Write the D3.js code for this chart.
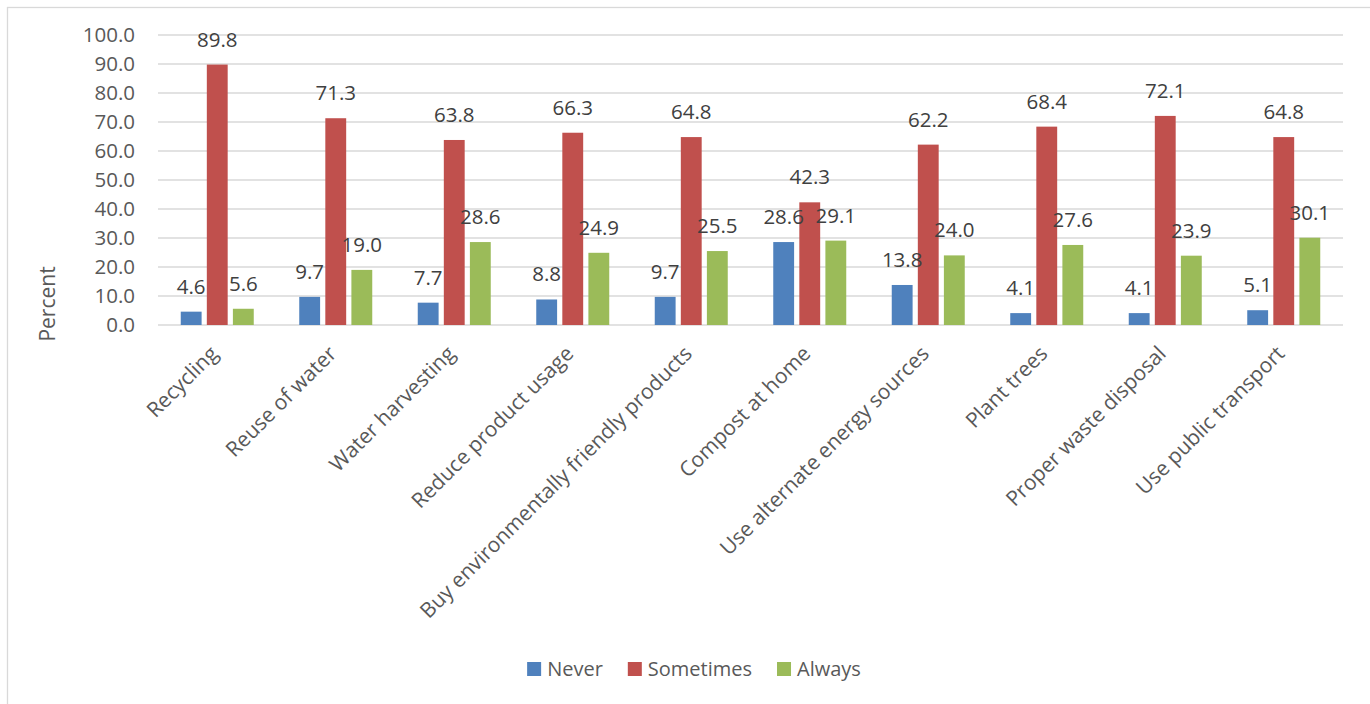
<!DOCTYPE html>
<html>
<head>
<meta charset="utf-8">
<title></title>
<style type="text/css">
    body{
        padding:0;
        margin:0;
        overflow: hidden;
        background:#fff;
    }
    text{ font-family: "Open Sans", "Noto Sans", sans-serif; }
</style>
</head>
<body>
<div id='svg-chart'></div>

<script type="text/javascript" src="https://cdn.jsdelivr.net/npm/d3@7/dist/d3.min.js"></script>
<script type="text/javascript">

    // data
    var categories = ["Recycling", "Reuse of water", "Water harvesting", "Reduce product usage",
        "Buy environmentally friendly products", "Compost at home", "Use alternate energy sources",
        "Plant trees", "Proper waste disposal", "Use public transport"];
    var seriesNames = ["Never", "Sometimes", "Always"];
    var never     = [4.6, 9.7, 7.7, 8.8, 9.7, 28.6, 13.8, 4.1, 4.1, 5.1];
    var sometimes = [89.8, 71.3, 63.8, 66.3, 64.8, 42.3, 62.2, 68.4, 72.1, 64.8];
    var always    = [5.6, 19.0, 28.6, 24.9, 25.5, 29.1, 24.0, 27.6, 23.9, 30.1];
    var yTicks = [0, 10, 20, 30, 40, 50, 60, 70, 80, 90, 100];
    var colors = ["#4F81BD", "#C0504D", "#9BBB59"];

    var seriesValues = [never, sometimes, always];

    var width = 1370, height = 704;
    var plotLeft = 158, plotRight = 1343, plotTop = 35, plotBottom = 325;

/*-----------------------------------------------------------------------
    scales
-----------------------------------------------------------------------*/
    var yScale = d3.scaleLinear().domain([0, 100]).range([plotBottom, plotTop]);
    var xScale = d3.scaleBand().domain(categories).range([plotLeft, plotRight]).padding(0);
    var xInner = d3.scaleBand().domain(seriesNames).range([-36.5, 36.5]).paddingInner(0.2).paddingOuter(0);
    var color = d3.scaleOrdinal().domain(seriesNames).range(colors);

    var svg = d3.select('#svg-chart')
        .append('svg')
        .attr('width', width)
        .attr('height', height);

    // chart frame (only left + top edges visible in the shot)
    svg.append('rect')
        .attr('x', 7.5).attr('y', 7.5)
        .attr('width', 1420).attr('height', 760)
        .style('fill', 'none')
        .style('stroke', '#D9D9D9')
        .style('stroke-width', 1.3);

    // gridlines
    svg.append('g')
        .selectAll('line')
        .data(yTicks)
        .enter()
        .append('line')
        .attr('x1', plotLeft).attr('x2', plotRight)
        .attr('y1', d => yScale(d)).attr('y2', d => yScale(d))
        .style('stroke', '#D9D9D9')
        .style('stroke-width', 1.5);

    // y tick labels
    svg.append('g')
        .selectAll('text')
        .data(yTicks)
        .enter()
        .append('text')
        .attr('x', 135)
        .attr('y', d => yScale(d))
        .attr('dy', '0.36em')
        .attr('text-anchor', 'end')
        .style('font-size', '20.5px')
        .style('fill', '#595959')
        .text(d => d.toFixed(1));

    // y axis title
    svg.append('text')
        .attr('transform', 'translate(55,304) rotate(-90)')
        .attr('text-anchor', 'middle')
        .style('font-size', '21px')
        .style('fill', '#595959')
        .text('Percent');

    // flat rows for bars
    var rows = [];
    categories.forEach(function(c, i){
        seriesNames.forEach(function(s, k){
            rows.push({cat: c, series: s, value: seriesValues[k][i]});
        });
    });

    var groups = svg.append('g');

    groups.selectAll('rect')
        .data(rows)
        .enter()
        .append('rect')
        .attr('x', d => xScale(d.cat) + xScale.bandwidth() / 2 + xInner(d.series))
        .attr('width', xInner.bandwidth())
        .attr('y', d => yScale(d.value))
        .attr('height', d => yScale(0) - yScale(d.value))
        .style('fill', d => color(d.series));

    // data labels
    groups.selectAll('text')
        .data(rows)
        .enter()
        .append('text')
        .attr('x', d => xScale(d.cat) + xScale.bandwidth() / 2 + xInner(d.series) + xInner.bandwidth() / 2)
        .attr('y', d => yScale(d.value) - 18)
        .attr('text-anchor', 'middle')
        .style('font-size', '20.5px')
        .style('fill', '#404040')
        .text(d => d.value.toFixed(1));

    // category labels, rotated
    svg.append('g')
        .selectAll('text')
        .data(categories)
        .enter()
        .append('text')
        .attr('transform', d => 'translate(' + (xScale(d) + xScale.bandwidth() / 2 + 2) + ',355) rotate(-45)')
        .attr('text-anchor', 'end')
        .style('font-size', '21px')
        .style('fill', '#595959')
        .text(d => d);

    // legend
    var legend = svg.append('g');
    var items = legend.selectAll('g')
        .data(seriesNames)
        .enter()
        .append('g');
    items.append('rect')
        .attr('width', 14).attr('height', 14)
        .attr('y', 662)
        .style('fill', d => color(d));
    items.append('text')
        .attr('x', 20)
        .attr('y', 676)
        .style('font-size', '20px')
        .style('fill', '#595959')
        .text(d => d);

    var xPos = 0, offsets = [];
    items.each(function(d){
        offsets.push(xPos);
        xPos += 20 + this.querySelector('text').getComputedTextLength() + 25;
    });
    var totalW = xPos - 25;
    var start = 694 - totalW / 2;
    items.attr('transform', (d, i) => 'translate(' + (start + offsets[i]) + ',0)');

</script>
</body>
</html>
